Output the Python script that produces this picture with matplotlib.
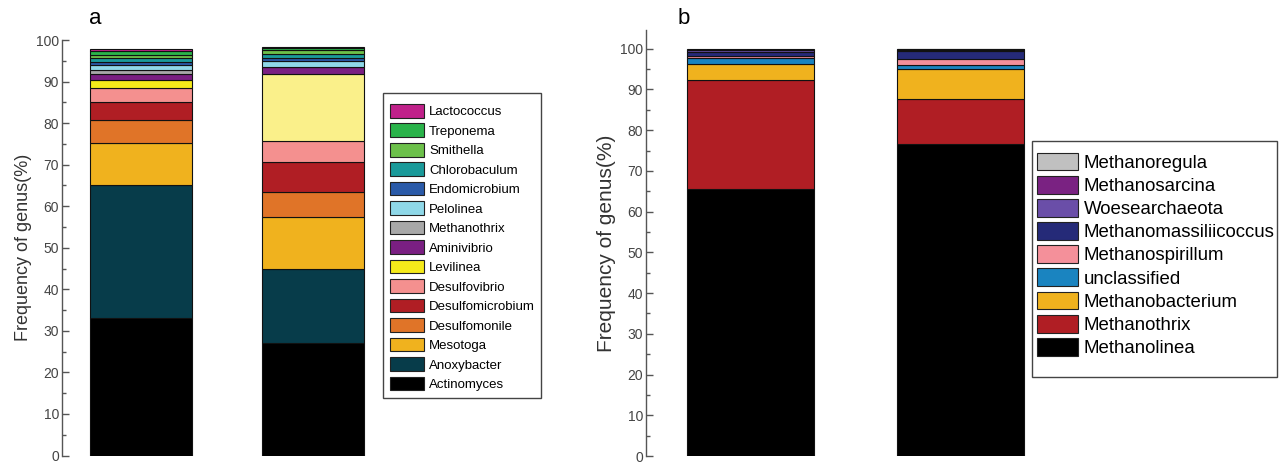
"""Stacked genus frequency bars for bacteria (a) and archaea (b)."""

import matplotlib

matplotlib.use("Agg")

import matplotlib.pyplot as plt
from matplotlib.patches import Patch, Rectangle
from matplotlib.ticker import FixedLocator

plt.rcParams["font.family"] = ["Liberation Sans", "DejaVu Sans"]

# panel a: bacteria, bottom to top
genera_a = [
    "Actinomyces", "Anoxybacter", "Mesotoga", "Desulfomonile",
    "Desulfomicrobium", "Desulfovibrio", "Levilinea", "Aminivibrio",
    "Methanothrix", "Pelolinea", "Endomicrobium", "Chlorobaculum",
    "Smithella", "Treponema", "Lactococcus",
]
sample1_a = [33.2, 32.0, 10.1, 5.4, 4.4, 3.3, 2.0, 1.5, 1.0, 1.0, 0.9, 0.8, 0.7, 1.0, 0.5]
sample2_a = [27.0, 18.0, 12.5, 6.0, 7.1, 5.2, 16.1, 1.5, 0.2, 1.3, 0.8, 1.0, 0.9, 0.4, 0.3]
colors_a = [
    "#000000", "#073c4a", "#f0b21e", "#e07428", "#b01e24", "#f4908f",
    "#f5ea1a", "#7a1f82", "#a8a8a8", "#8fd8e8", "#2a5aa8", "#1a9a9a",
    "#6cc04a", "#2ab34a", "#c0218a",
]

# panel b: archaea, bottom to top
genera_b = [
    "Methanolinea", "Methanothrix", "Methanobacterium", "unclassified",
    "Methanospirillum", "Methanomassiliicoccus", "Woesearchaeota",
    "Methanosarcina", "Methanoregula",
]
sample1_b = [65.5, 26.8, 4.0, 1.5, 0.5, 1.0, 0.3, 0.2, 0.2]
sample2_b = [76.5, 11.1, 7.4, 1.0, 1.5, 2.0, 0.2, 0.2, 0.1]
colors_b = [
    "#000000", "#b01e24", "#f0b21e", "#1a84c0", "#f4909a", "#252a78",
    "#6a4ea8", "#7a2282", "#c0c0c0",
]

W, H = 1282, 463


def px_axes(fig, left, top, right, bottom):
    return fig.add_axes(
        [left / W, 1 - bottom / H, (right - left) / W, (bottom - top) / H]
    )


def px_frame(fig, left, top, right, bottom):
    fig.patches.append(
        Rectangle((left / W, 1 - bottom / H), (right - left) / W,
                  (bottom - top) / H, transform=fig.transFigure,
                  fill=False, edgecolor="#444444", linewidth=1.0)
    )


def style_axis(ax, label, label_size, tick_size):
    for side in ("top", "right", "bottom"):
        ax.spines[side].set_visible(False)
    ax.spines["left"].set_color("#555555")
    ax.spines["left"].set_linewidth(1.0)
    ax.set_xticks([])
    ax.set_yticks(range(0, 101, 10))
    ax.yaxis.set_minor_locator(FixedLocator(range(5, 100, 10)))
    ax.tick_params(axis="y", which="major", direction="in", length=5,
                   width=1.0, color="#555555", labelsize=tick_size,
                   labelcolor="#444444", pad=2)
    ax.tick_params(axis="y", which="minor", direction="in", length=3,
                   width=1.0, color="#555555")
    ax.set_ylabel(label, fontsize=label_size, color="#333333", labelpad=3)


def stack(ax, samples, colors, width, overrides=None):
    overrides = overrides or {}
    for i, values in enumerate(samples):
        bottom = 0.0
        for j, (v, c) in enumerate(zip(values, colors)):
            c = overrides.get((i, j), c)
            ax.bar(i, v, width=width, bottom=bottom, color=c,
                   edgecolor="#111111", linewidth=0.8)
            bottom += v


fig = plt.figure(figsize=(W / 100, H / 100), dpi=100)

# panel a
ax_a = px_axes(fig, 62, 40, 392, 455.5)
stack(ax_a, [sample1_a, sample2_a], colors_a, 0.593,
      overrides={(1, 6): "#faf08a"})
ax_a.set_xlim(-0.46, 1.46)
ax_a.set_ylim(0, 100)
style_axis(ax_a, "Frequency of genus(%)", 13, 10)
fig.text(95 / W, 1 - 18 / H, "a", fontsize=16, va="center", ha="center")

handles_a = [Patch(facecolor=c, edgecolor="#222222", linewidth=0.8)
             for c in colors_a][::-1]
fig.legend(handles_a, genera_a[::-1], loc="upper left",
           bbox_to_anchor=(390 / W, 1 - 104 / H), borderaxespad=0,
           fontsize=9.5, handlelength=2.6, handleheight=1.2,
           labelspacing=0.4, handletextpad=0.35, borderpad=0,
           frameon=False)
px_frame(fig, 383, 93, 541, 398)

# panel b
ax_b = px_axes(fig, 646, 30, 1065, 456)
stack(ax_b, [sample1_b, sample2_b], colors_b, 0.607)
ax_b.set_xlim(-0.5, 1.5)
ax_b.set_ylim(0, 104.6)
style_axis(ax_b, "Frequency of genus(%)", 15, 10)
fig.text(684 / W, 1 - 18 / H, "b", fontsize=16, va="center", ha="center")

handles_b = [Patch(facecolor=c, edgecolor="#222222", linewidth=0.8)
             for c in colors_b][::-1]
fig.legend(handles_b, genera_b[::-1], loc="upper left",
           bbox_to_anchor=(1037 / W, 1 - 152.5 / H), borderaxespad=0,
           fontsize=13.4, handlelength=2.2, handleheight=1.1,
           labelspacing=0.21, handletextpad=0.3, borderpad=0,
           frameon=False)
px_frame(fig, 1032, 141, 1277, 377)

fig.savefig("out.png", dpi=100)
